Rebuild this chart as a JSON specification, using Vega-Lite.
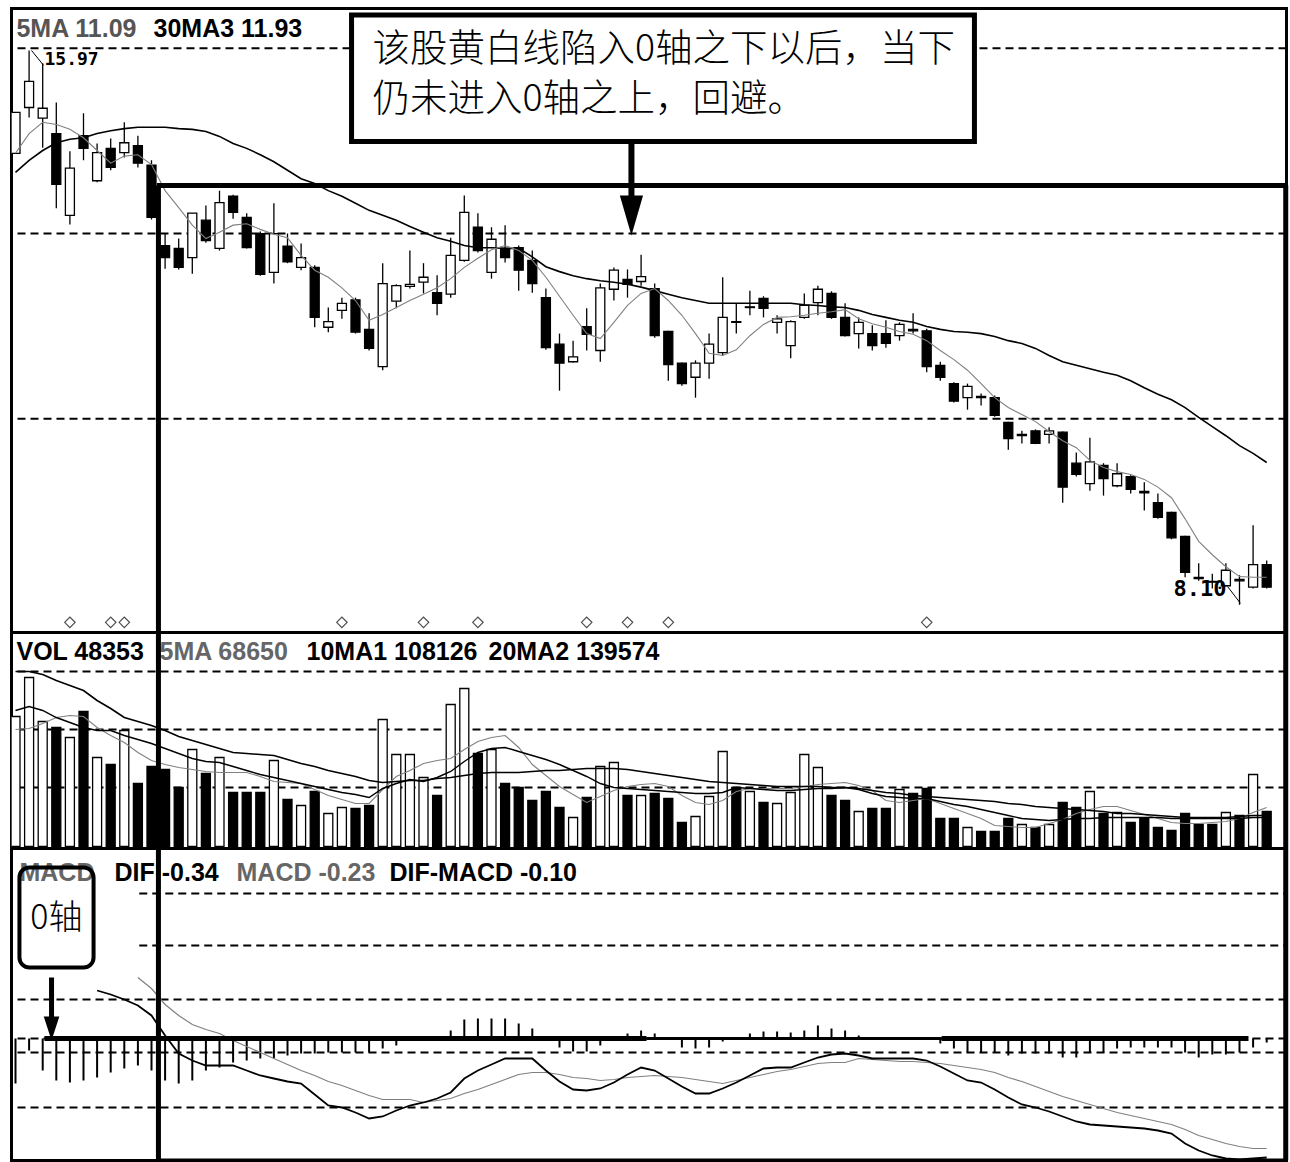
{
"$schema": "https://vega.github.io/schema/vega-lite/v6.json",
"padding": {"left": 8.5, "top": 6.5, "right": 0, "bottom": 0},
"background": "white",
"spacing": 0,
"bounds": "flush",
"config": {"view": {"stroke": "black", "strokeWidth": 3}, "axis": {"disable": true}, "concat": {"spacing": 0}, "scale": {"continuousPadding": 0}},
"datasets": {"k": [
{"i":0,"o":14.51,"h":15.09,"l":14.51,"c":15.09,"m5":14.51,"m30":14.24,"v":195000,"v5":175500,"v10":204000,"v20":262500,"mh":-0.225,"dif":null,"dea":null},
{"i":1,"o":15.16,"h":15.97,"l":15.02,"c":15.53,"m5":14.79,"m30":14.41,"v":253500,"v5":177000,"v10":210000,"v20":262500,"mh":-0.06,"dif":null,"dea":null},
{"i":2,"o":15.01,"h":15.79,"l":14.59,"c":15.15,"m5":14.95,"m30":14.55,"v":187500,"v5":184500,"v10":204000,"v20":258000,"mh":-0.16,"dif":null,"dea":null},
{"i":3,"o":14.79,"h":15.23,"l":13.73,"c":14.07,"m5":14.92,"m30":14.66,"v":178500,"v5":193500,"v10":193500,"v20":249000,"mh":-0.21,"dif":null,"dea":null},
{"i":4,"o":13.63,"h":14.54,"l":13.50,"c":14.30,"m5":14.85,"m30":14.71,"v":163500,"v5":196500,"v10":186000,"v20":241500,"mh":-0.22,"dif":null,"dea":null},
{"i":5,"o":14.76,"h":15.08,"l":14.41,"c":14.58,"m5":14.73,"m30":14.73,"v":202500,"v5":195000,"v10":178500,"v20":234000,"mh":-0.21,"dif":null,"dea":null},
{"i":6,"o":14.12,"h":14.65,"l":14.10,"c":14.52,"m5":14.55,"m30":14.79,"v":133500,"v5":178500,"v10":174000,"v20":219000,"mh":-0.195,"dif":0.24,"dea":null},
{"i":7,"o":14.58,"h":14.72,"l":14.27,"c":14.31,"m5":14.37,"m30":14.83,"v":123000,"v5":166500,"v10":174000,"v20":207000,"mh":-0.17,"dif":0.22,"dea":null},
{"i":8,"o":14.52,"h":14.95,"l":14.45,"c":14.66,"m5":14.47,"m30":14.86,"v":174000,"v5":156000,"v10":166500,"v20":193500,"mh":-0.15,"dif":0.195,"dea":null},
{"i":9,"o":14.62,"h":14.76,"l":14.31,"c":14.37,"m5":14.49,"m30":14.88,"v":94500,"v5":141000,"v10":160500,"v20":187500,"mh":-0.135,"dif":0.165,"dea":0.305},
{"i":10,"o":14.34,"h":14.41,"l":13.57,"c":13.60,"m5":14.35,"m30":14.88,"v":120000,"v5":129000,"v10":154500,"v20":181500,"mh":-0.16,"dif":0.115,"dea":0.25},
{"i":11,"o":13.20,"h":13.37,"l":12.87,"c":13.03,"m5":13.98,"m30":14.88,"v":115500,"v5":123000,"v10":147000,"v20":174000,"mh":-0.21,"dif":0.015,"dea":0.17},
{"i":12,"o":13.16,"h":13.30,"l":12.86,"c":12.89,"m5":13.74,"m30":14.86,"v":88500,"v5":118500,"v10":139500,"v20":165000,"mh":-0.225,"dif":-0.075,"dea":0.115},
{"i":13,"o":13.03,"h":13.66,"l":12.80,"c":13.66,"m5":13.49,"m30":14.85,"v":145500,"v5":115500,"v10":132000,"v20":159000,"mh":-0.21,"dif":-0.11,"dea":0.07},
{"i":14,"o":13.56,"h":13.77,"l":13.24,"c":13.27,"m5":13.30,"m30":14.82,"v":109500,"v5":112500,"v10":127500,"v20":153000,"mh":-0.16,"dif":-0.135,"dea":0.045},
{"i":15,"o":13.16,"h":13.98,"l":13.13,"c":13.81,"m5":13.39,"m30":14.75,"v":133500,"v5":111000,"v10":126000,"v20":147000,"mh":-0.145,"dif":-0.135,"dea":0.025},
{"i":16,"o":13.90,"h":13.92,"l":13.58,"c":13.67,"m5":13.49,"m30":14.65,"v":81000,"v5":111000,"v10":120000,"v20":141000,"mh":-0.12,"dif":-0.135,"dea":-0.01},
{"i":17,"o":13.60,"h":13.66,"l":13.16,"c":13.17,"m5":13.51,"m30":14.58,"v":81000,"v5":111000,"v10":114000,"v20":139500,"mh":-0.11,"dif":-0.16,"dea":-0.04},
{"i":18,"o":13.37,"h":13.40,"l":12.77,"c":12.79,"m5":13.43,"m30":14.49,"v":81000,"v5":105000,"v10":108000,"v20":138000,"mh":-0.10,"dif":-0.185,"dea":-0.07},
{"i":19,"o":12.82,"h":13.80,"l":12.66,"c":13.37,"m5":13.36,"m30":14.39,"v":129000,"v5":97500,"v10":103500,"v20":136500,"mh":-0.10,"dif":-0.2,"dea":-0.1},
{"i":20,"o":13.19,"h":13.37,"l":12.95,"c":12.97,"m5":13.31,"m30":14.27,"v":70500,"v5":96000,"v10":99000,"v20":130500,"mh":-0.085,"dif":-0.215,"dea":-0.13},
{"i":21,"o":12.89,"h":13.23,"l":12.85,"c":13.03,"m5":13.06,"m30":14.15,"v":61500,"v5":94500,"v10":94500,"v20":124500,"mh":-0.075,"dif":-0.225,"dea":-0.16},
{"i":22,"o":12.89,"h":12.92,"l":12.04,"c":12.18,"m5":12.85,"m30":14.08,"v":82500,"v5":85500,"v10":90000,"v20":120000,"mh":-0.075,"dif":-0.28,"dea":-0.185},
{"i":23,"o":12.04,"h":12.32,"l":11.97,"c":12.12,"m5":12.75,"m30":13.98,"v":49500,"v5":76500,"v10":85500,"v20":114000,"mh":-0.07,"dif":-0.335,"dea":-0.215},
{"i":24,"o":12.28,"h":12.46,"l":12.16,"c":12.38,"m5":12.60,"m30":13.90,"v":58500,"v5":70500,"v10":81000,"v20":109500,"mh":-0.07,"dif":-0.345,"dea":-0.235},
{"i":25,"o":12.43,"h":12.46,"l":11.95,"c":11.97,"m5":12.42,"m30":13.80,"v":57000,"v5":64500,"v10":78000,"v20":105000,"mh":-0.07,"dif":-0.37,"dea":-0.26},
{"i":26,"o":12.01,"h":12.24,"l":11.71,"c":11.74,"m5":12.14,"m30":13.70,"v":61500,"v5":64500,"v10":73500,"v20":99000,"mh":-0.07,"dif":-0.4,"dea":-0.285},
{"i":27,"o":11.48,"h":12.95,"l":11.43,"c":12.66,"m5":12.22,"m30":13.63,"v":190500,"v5":85500,"v10":87000,"v20":96000,"mh":-0.05,"dif":-0.39,"dea":-0.305},
{"i":28,"o":12.41,"h":12.65,"l":12.31,"c":12.63,"m5":12.32,"m30":13.56,"v":138000,"v5":105000,"v10":94500,"v20":97500,"mh":-0.035,"dif":-0.36,"dea":-0.305},
{"i":29,"o":12.62,"h":13.13,"l":12.59,"c":12.65,"m5":12.42,"m30":13.47,"v":138000,"v5":114000,"v10":100500,"v20":99000,"mh":-0.01,"dif":-0.335,"dea":-0.305},
{"i":30,"o":12.68,"h":12.95,"l":12.52,"c":12.75,"m5":12.51,"m30":13.39,"v":103500,"v5":124500,"v10":97500,"v20":99000,"mh":-0.005,"dif":-0.32,"dea":-0.32},
{"i":31,"o":12.53,"h":12.78,"l":12.21,"c":12.38,"m5":12.60,"m30":13.31,"v":76500,"v5":129000,"v10":103500,"v20":102000,"mh":0.005,"dif":-0.3,"dea":-0.31},
{"i":32,"o":12.51,"h":13.31,"l":12.46,"c":13.06,"m5":12.73,"m30":13.26,"v":213000,"v5":132000,"v10":112500,"v20":103500,"mh":0.04,"dif":-0.27,"dea":-0.3},
{"i":33,"o":12.99,"h":13.91,"l":12.97,"c":13.67,"m5":12.89,"m30":13.20,"v":237000,"v5":145500,"v10":127500,"v20":106500,"mh":0.095,"dif":-0.2,"dea":-0.275},
{"i":34,"o":13.46,"h":13.66,"l":13.10,"c":13.13,"m5":13.02,"m30":13.17,"v":139500,"v5":157500,"v10":141000,"v20":109500,"mh":0.10,"dif":-0.16,"dea":-0.255},
{"i":35,"o":12.82,"h":13.46,"l":12.73,"c":13.29,"m5":13.14,"m30":13.17,"v":145500,"v5":163500,"v10":147000,"v20":111000,"mh":0.10,"dif":-0.13,"dea":-0.23},
{"i":36,"o":13.16,"h":13.49,"l":12.96,"c":13.03,"m5":13.20,"m30":13.16,"v":94500,"v5":166500,"v10":148500,"v20":111000,"mh":0.10,"dif":-0.1,"dea":-0.205},
{"i":37,"o":13.17,"h":13.20,"l":12.56,"c":12.85,"m5":13.13,"m30":13.16,"v":88500,"v5":148500,"v10":142500,"v20":111000,"mh":0.075,"dif":-0.1,"dea":-0.18},
{"i":38,"o":12.99,"h":13.13,"l":12.53,"c":12.66,"m5":12.99,"m30":13.04,"v":69000,"v5":123000,"v10":136500,"v20":112500,"mh":0.05,"dif":-0.1,"dea":-0.17},
{"i":39,"o":12.46,"h":12.59,"l":11.72,"c":11.75,"m5":12.75,"m30":12.90,"v":82500,"v5":106500,"v10":130500,"v20":114000,"mh":0.005,"dif":-0.16,"dea":-0.17},
{"i":40,"o":11.80,"h":11.95,"l":11.14,"c":11.53,"m5":12.48,"m30":12.83,"v":58500,"v5":90000,"v10":123000,"v20":114000,"mh":-0.045,"dif":-0.215,"dea":-0.18},
{"i":41,"o":11.55,"h":11.85,"l":11.54,"c":11.62,"m5":12.21,"m30":12.77,"v":43500,"v5":78000,"v10":114000,"v20":115500,"mh":-0.065,"dif":-0.255,"dea":-0.195},
{"i":42,"o":12.05,"h":12.31,"l":11.71,"c":11.94,"m5":11.95,"m30":12.73,"v":73500,"v5":66000,"v10":105000,"v20":117000,"mh":-0.065,"dif":-0.26,"dea":-0.2},
{"i":43,"o":11.71,"h":12.66,"l":11.55,"c":12.60,"m5":11.88,"m30":12.70,"v":120000,"v5":75000,"v10":94500,"v20":117000,"mh":-0.035,"dif":-0.25,"dea":-0.21},
{"i":44,"o":12.58,"h":12.89,"l":12.42,"c":12.85,"m5":12.11,"m30":12.68,"v":126000,"v5":84000,"v10":88500,"v20":117000,"mh":0.005,"dif":-0.22,"dea":-0.205},
{"i":45,"o":12.72,"h":12.86,"l":12.46,"c":12.65,"m5":12.35,"m30":12.65,"v":76500,"v5":90000,"v10":87000,"v20":115500,"mh":0.025,"dif":-0.18,"dea":-0.195},
{"i":46,"o":12.69,"h":13.07,"l":12.63,"c":12.76,"m5":12.52,"m30":12.61,"v":76500,"v5":93000,"v10":85500,"v20":112500,"mh":0.04,"dif":-0.145,"dea":-0.19},
{"i":47,"o":12.59,"h":12.66,"l":11.89,"c":11.92,"m5":12.59,"m30":12.56,"v":79500,"v5":94500,"v10":84000,"v20":109500,"mh":0.025,"dif":-0.16,"dea":-0.185},
{"i":48,"o":11.98,"h":11.99,"l":11.28,"c":11.51,"m5":12.42,"m30":12.51,"v":72000,"v5":90000,"v10":82500,"v20":106500,"mh":-0.005,"dif":-0.2,"dea":-0.19},
{"i":49,"o":11.53,"h":11.54,"l":11.21,"c":11.24,"m5":12.21,"m30":12.46,"v":36000,"v5":76500,"v10":81000,"v20":103500,"mh":-0.045,"dif":-0.24,"dea":-0.195},
{"i":50,"o":11.33,"h":11.57,"l":11.04,"c":11.53,"m5":11.95,"m30":12.42,"v":45000,"v5":66000,"v10":79500,"v20":100500,"mh":-0.05,"dif":-0.275,"dea":-0.205},
{"i":51,"o":11.53,"h":11.95,"l":11.31,"c":11.80,"m5":11.67,"m30":12.38,"v":75000,"v5":63000,"v10":79500,"v20":97500,"mh":-0.045,"dif":-0.275,"dea":-0.215},
{"i":52,"o":11.68,"h":12.75,"l":11.64,"c":12.18,"m5":11.64,"m30":12.38,"v":142500,"v5":69000,"v10":81000,"v20":96000,"mh":-0.015,"dif":-0.25,"dea":-0.225},
{"i":53,"o":12.12,"h":12.38,"l":11.95,"c":12.11,"m5":11.72,"m30":12.38,"v":88500,"v5":82500,"v10":88500,"v20":94500,"mh":0.005,"dif":-0.22,"dea":-0.21},
{"i":54,"o":12.32,"h":12.56,"l":12.21,"c":12.33,"m5":11.92,"m30":12.38,"v":82500,"v5":87000,"v10":87000,"v20":93000,"mh":0.025,"dif":-0.185,"dea":-0.195},
{"i":55,"o":12.45,"h":12.48,"l":12.18,"c":12.31,"m5":12.08,"m30":12.38,"v":66000,"v5":87000,"v10":85500,"v20":91500,"mh":0.035,"dif":-0.15,"dea":-0.18},
{"i":56,"o":12.11,"h":12.21,"l":11.95,"c":12.16,"m5":12.18,"m30":12.38,"v":64500,"v5":87000,"v10":84000,"v20":90000,"mh":0.035,"dif":-0.145,"dea":-0.165},
{"i":57,"o":11.78,"h":12.14,"l":11.60,"c":12.12,"m5":12.19,"m30":12.38,"v":81000,"v5":87000,"v10":84000,"v20":90000,"mh":0.03,"dif":-0.145,"dea":-0.155},
{"i":58,"o":12.18,"h":12.52,"l":12.16,"c":12.35,"m5":12.21,"m30":12.36,"v":138000,"v5":90000,"v10":85500,"v20":90000,"mh":0.04,"dif":-0.12,"dea":-0.14},
{"i":59,"o":12.39,"h":12.63,"l":12.21,"c":12.58,"m5":12.24,"m30":12.35,"v":118500,"v5":93000,"v10":87000,"v20":90000,"mh":0.065,"dif":-0.095,"dea":-0.125},
{"i":60,"o":12.52,"h":12.55,"l":12.16,"c":12.18,"m5":12.26,"m30":12.33,"v":76500,"v5":94500,"v10":87000,"v20":88500,"mh":0.05,"dif":-0.08,"dea":-0.12},
{"i":61,"o":12.18,"h":12.38,"l":11.91,"c":11.92,"m5":12.29,"m30":12.32,"v":69000,"v5":96000,"v10":88500,"v20":88500,"mh":0.04,"dif":-0.075,"dea":-0.12},
{"i":62,"o":11.95,"h":12.18,"l":11.74,"c":12.11,"m5":12.16,"m30":12.28,"v":52500,"v5":91500,"v10":85500,"v20":87000,"mh":0.015,"dif":-0.085,"dea":-0.1},
{"i":63,"o":11.95,"h":12.07,"l":11.71,"c":11.78,"m5":12.09,"m30":12.22,"v":57000,"v5":84000,"v10":79500,"v20":84000,"mh":0.005,"dif":-0.1,"dea":-0.105},
{"i":64,"o":11.95,"h":12.14,"l":11.75,"c":11.81,"m5":12.04,"m30":12.18,"v":57000,"v5":69000,"v10":75000,"v20":81000,"mh":0.005,"dif":-0.1,"dea":-0.11},
{"i":65,"o":11.92,"h":12.11,"l":11.85,"c":12.08,"m5":11.98,"m30":12.14,"v":85500,"v5":66000,"v10":73500,"v20":79500,"mh":0.003,"dif":-0.1,"dea":-0.115},
{"i":66,"o":12.01,"h":12.24,"l":11.95,"c":11.99,"m5":11.94,"m30":12.11,"v":79500,"v5":69000,"v10":72000,"v20":76500,"mh":-0.003,"dif":-0.1,"dea":-0.115},
{"i":67,"o":11.99,"h":12.02,"l":11.40,"c":11.48,"m5":11.85,"m30":12.05,"v":87000,"v5":72000,"v10":72000,"v20":75000,"mh":-0.005,"dif":-0.11,"dea":-0.12},
{"i":68,"o":11.50,"h":11.55,"l":11.28,"c":11.33,"m5":11.71,"m30":12.01,"v":42000,"v5":64500,"v10":67500,"v20":73500,"mh":-0.025,"dif":-0.14,"dea":-0.125},
{"i":69,"o":11.24,"h":11.26,"l":10.97,"c":10.99,"m5":11.58,"m30":11.98,"v":42000,"v5":57000,"v10":63000,"v20":72000,"mh":-0.05,"dif":-0.175,"dea":-0.135},
{"i":70,"o":11.04,"h":11.24,"l":10.87,"c":11.20,"m5":11.43,"m30":11.97,"v":28500,"v5":49500,"v10":60000,"v20":70500,"mh":-0.07,"dif":-0.21,"dea":-0.145},
{"i":71,"o":11.06,"h":11.10,"l":10.93,"c":11.04,"m5":11.24,"m30":11.95,"v":22500,"v5":42000,"v10":55500,"v20":69000,"mh":-0.07,"dif":-0.22,"dea":-0.155},
{"i":72,"o":11.04,"h":11.07,"l":10.77,"c":10.79,"m5":11.04,"m30":11.91,"v":22500,"v5":31500,"v10":51000,"v20":67500,"mh":-0.07,"dif":-0.255,"dea":-0.17},
{"i":73,"o":10.69,"h":10.70,"l":10.30,"c":10.46,"m5":10.90,"m30":11.85,"v":42000,"v5":30000,"v10":46500,"v20":64500,"mh":-0.085,"dif":-0.295,"dea":-0.195},
{"i":74,"o":10.50,"h":10.57,"l":10.39,"c":10.52,"m5":10.80,"m30":11.81,"v":33000,"v5":28500,"v10":42000,"v20":63000,"mh":-0.075,"dif":-0.33,"dea":-0.215},
{"i":75,"o":10.57,"h":10.59,"l":10.38,"c":10.39,"m5":10.70,"m30":11.74,"v":28500,"v5":28500,"v10":40500,"v20":60000,"mh":-0.075,"dif":-0.345,"dea":-0.24},
{"i":76,"o":10.52,"h":10.62,"l":10.39,"c":10.57,"m5":10.56,"m30":11.64,"v":33000,"v5":34500,"v10":39000,"v20":58500,"mh":-0.075,"dif":-0.365,"dea":-0.265},
{"i":77,"o":10.55,"h":10.56,"l":9.55,"c":9.77,"m5":10.43,"m30":11.55,"v":66000,"v5":40500,"v10":40500,"v20":57000,"mh":-0.095,"dif":-0.39,"dea":-0.29},
{"i":78,"o":10.11,"h":10.26,"l":9.92,"c":9.95,"m5":10.33,"m30":11.50,"v":58500,"v5":49500,"v10":42000,"v20":55500,"mh":-0.095,"dif":-0.415,"dea":-0.31},
{"i":79,"o":9.82,"h":10.47,"l":9.72,"c":10.13,"m5":10.15,"m30":11.45,"v":82500,"v5":55500,"v10":42000,"v20":54000,"mh":-0.07,"dif":-0.43,"dea":-0.33},
{"i":80,"o":10.08,"h":10.11,"l":9.65,"c":9.89,"m5":10.05,"m30":11.40,"v":49500,"v5":60000,"v10":43500,"v20":52500,"mh":-0.07,"dif":-0.435,"dea":-0.35},
{"i":81,"o":9.79,"h":10.11,"l":9.77,"c":9.96,"m5":9.99,"m30":11.36,"v":51000,"v5":60000,"v10":43500,"v20":49500,"mh":-0.05,"dif":-0.44,"dea":-0.37},
{"i":82,"o":9.92,"h":9.94,"l":9.68,"c":9.74,"m5":9.95,"m30":11.28,"v":36000,"v5":54000,"v10":43500,"v20":49500,"mh":-0.045,"dif":-0.445,"dea":-0.385},
{"i":83,"o":9.71,"h":9.84,"l":9.44,"c":9.69,"m5":9.88,"m30":11.18,"v":42000,"v5":48000,"v10":43500,"v20":48000,"mh":-0.045,"dif":-0.45,"dea":-0.4},
{"i":84,"o":9.55,"h":9.68,"l":9.32,"c":9.34,"m5":9.77,"m30":11.09,"v":28500,"v5":42000,"v10":43500,"v20":46500,"mh":-0.045,"dif":-0.46,"dea":-0.415},
{"i":85,"o":9.41,"h":9.42,"l":9.03,"c":9.05,"m5":9.62,"m30":11.01,"v":24000,"v5":36000,"v10":42000,"v20":45000,"mh":-0.045,"dif":-0.475,"dea":-0.43},
{"i":86,"o":9.07,"h":9.08,"l":8.49,"c":8.56,"m5":9.32,"m30":10.90,"v":49500,"v5":34500,"v10":42000,"v20":43500,"mh":-0.07,"dif":-0.525,"dea":-0.455},
{"i":87,"o":8.49,"h":8.69,"l":8.44,"c":8.47,"m5":9.00,"m30":10.76,"v":33000,"v5":34500,"v10":42000,"v20":43500,"mh":-0.095,"dif":-0.56,"dea":-0.485},
{"i":88,"o":8.43,"h":8.54,"l":8.33,"c":8.42,"m5":8.81,"m30":10.63,"v":33000,"v5":36000,"v10":42000,"v20":43500,"mh":-0.08,"dif":-0.585,"dea":-0.505},
{"i":89,"o":8.37,"h":8.69,"l":8.36,"c":8.59,"m5":8.64,"m30":10.50,"v":51000,"v5":37500,"v10":42000,"v20":43500,"mh":-0.08,"dif":-0.6,"dea":-0.525},
{"i":90,"o":8.46,"h":8.52,"l":8.10,"c":8.44,"m5":8.50,"m30":10.36,"v":46500,"v5":42000,"v10":42000,"v20":45000,"mh":-0.07,"dif":-0.605,"dea":-0.54},
{"i":91,"o":8.35,"h":9.23,"l":8.33,"c":8.67,"m5":8.49,"m30":10.25,"v":108000,"v5":51000,"v10":43500,"v20":46500,"mh":-0.045,"dif":-0.6,"dea":-0.55},
{"i":92,"o":8.67,"h":8.73,"l":8.33,"c":8.35,"m5":8.49,"m30":10.12,"v":52500,"v5":58500,"v10":43500,"v20":46500,"mh":-0.02,"dif":-0.595,"dea":-0.55}
]},
"vconcat": [
{
"width": 1275, "height": 624,
"data": {"name": "k"},
"layer": [
{"data": {"values": [{"g": 16.0}, {"g": 13.37}, {"g": 10.74}]}, "mark": {"type": "rule", "strokeDash": [8, 5], "strokeWidth": 2, "color": "black"},
 "encoding": {"y": {"field": "g", "type": "quantitative", "scale": {"domain": [7.706, 16.566], "nice": false, "zero": false}, "axis": null}}},
{"mark": {"type": "rule", "strokeWidth": 1.3, "color": "black", "clip": true},
 "encoding": {"x": {"field": "i", "type": "quantitative", "scale": {"domain": [-0.294, 93.456], "nice": false, "zero": false, "padding": 0}, "axis": null},
  "y": {"field": "l", "type": "quantitative", "scale": {"domain": [7.706, 16.566], "nice": false, "zero": false}, "axis": null}, "y2": {"field": "h"}}},
{"mark": {"type": "bar", "width": 9, "stroke": "black", "strokeWidth": 1.3, "clip": true},
 "encoding": {"x": {"field": "i", "type": "quantitative", "scale": {"domain": [-0.294, 93.456], "nice": false, "zero": false, "padding": 0}, "axis": null},
  "y": {"field": "o", "type": "quantitative", "scale": {"domain": [7.706, 16.566], "nice": false, "zero": false}, "axis": null}, "y2": {"field": "c"},
  "fill": {"condition": {"test": "datum.c > datum.o", "value": "white"}, "value": "black"}}},
{"mark": {"type": "line", "color": "black", "strokeWidth": 1.6},
 "encoding": {"x": {"field": "i", "type": "quantitative", "scale": {"domain": [-0.294, 93.456], "nice": false, "zero": false, "padding": 0}, "axis": null},
  "y": {"field": "m30", "type": "quantitative", "scale": {"domain": [7.706, 16.566], "nice": false, "zero": false}, "axis": null}}},
{"mark": {"type": "line", "color": "#808080", "strokeWidth": 1.1},
 "encoding": {"x": {"field": "i", "type": "quantitative", "scale": {"domain": [-0.294, 93.456], "nice": false, "zero": false, "padding": 0}, "axis": null},
  "y": {"field": "m5", "type": "quantitative", "scale": {"domain": [7.706, 16.566], "nice": false, "zero": false}, "axis": null}}},
{"data": {"values": [{"i": 4}, {"i": 7}, {"i": 8}, {"i": 24}, {"i": 30}, {"i": 34}, {"i": 42}, {"i": 45}, {"i": 48}, {"i": 67}]},
 "mark": {"type": "point", "shape": "diamond", "size": 110, "filled": false, "color": "black", "strokeWidth": 1.2},
 "encoding": {"x": {"field": "i", "type": "quantitative", "scale": {"domain": [-0.294, 93.456], "nice": false, "zero": false, "padding": 0}, "axis": null},
  "y": {"datum": 7.85, "type": "quantitative", "scale": {"domain": [7.706, 16.566], "nice": false, "zero": false}, "axis": null}}},
{"data": {"values": [{}]}, "mark": {"type": "rule", "strokeWidth": 1, "color": "black"},
 "encoding": {"x": {"datum": 1.18, "type": "quantitative", "scale": {"domain": [-0.294, 93.456], "nice": false, "zero": false, "padding": 0}, "axis": null}, "x2": {"datum": 2.06},
  "y": {"datum": 15.97, "type": "quantitative", "scale": {"domain": [7.706, 16.566], "nice": false, "zero": false}, "axis": null}, "y2": {"datum": 15.76}}},
{"data": {"values": [{}]}, "mark": {"type": "rule", "strokeWidth": 1, "color": "black"},
 "encoding": {"x": {"datum": 89.12, "type": "quantitative", "scale": {"domain": [-0.294, 93.456], "nice": false, "zero": false, "padding": 0}, "axis": null}, "x2": {"datum": 90.07},
  "y": {"datum": 8.36, "type": "quantitative", "scale": {"domain": [7.706, 16.566], "nice": false, "zero": false}, "axis": null}, "y2": {"datum": 8.12}}},
{"data": {"values": [{}]}, "mark": {"type": "text", "text": "15.97", "align": "left", "baseline": "middle", "font": "DejaVu Sans Mono", "fontWeight": "bold", "fontSize": 18, "color": "black"},
 "encoding": {"x": {"datum": 2.13, "type": "quantitative", "scale": {"domain": [-0.294, 93.456], "nice": false, "zero": false, "padding": 0}, "axis": null}, "y": {"datum": 15.83, "type": "quantitative", "scale": {"domain": [7.706, 16.566], "nice": false, "zero": false}, "axis": null}}},
{"data": {"values": [{}]}, "mark": {"type": "text", "text": "8.10", "align": "left", "baseline": "middle", "font": "DejaVu Sans Mono", "fontWeight": "bold", "fontSize": 22, "color": "black"},
 "encoding": {"x": {"datum": 85.15, "type": "quantitative", "scale": {"domain": [-0.294, 93.456], "nice": false, "zero": false, "padding": 0}, "axis": null}, "y": {"datum": 8.33, "type": "quantitative", "scale": {"domain": [7.706, 16.566], "nice": false, "zero": false}, "axis": null}}},
{"data": {"values": [{}]}, "mark": {"type": "text", "text": "5MA 11.09", "align": "left", "baseline": "middle", "font": "Liberation Sans", "fontWeight": "bold", "fontSize": 25, "color": "#555555"},
 "encoding": {"x": {"datum": 0.07, "type": "quantitative", "scale": {"domain": [-0.294, 93.456], "nice": false, "zero": false, "padding": 0}, "axis": null}, "y": {"datum": 16.275, "type": "quantitative", "scale": {"domain": [7.706, 16.566], "nice": false, "zero": false}, "axis": null}}},
{"data": {"values": [{}]}, "mark": {"type": "text", "text": "30MA3 11.93", "align": "left", "baseline": "middle", "font": "Liberation Sans", "fontWeight": "bold", "fontSize": 25, "color": "black"},
 "encoding": {"x": {"datum": 10.15, "type": "quantitative", "scale": {"domain": [-0.294, 93.456], "nice": false, "zero": false, "padding": 0}, "axis": null}, "y": {"datum": 16.275, "type": "quantitative", "scale": {"domain": [7.706, 16.566], "nice": false, "zero": false}, "axis": null}}},
{"data": {"values": [{}]}, "mark": {"type": "rect", "fill": "white", "stroke": "black", "strokeWidth": 5},
 "encoding": {"x": {"datum": 24.71, "type": "quantitative", "scale": {"domain": [-0.294, 93.456], "nice": false, "zero": false, "padding": 0}, "axis": null}, "x2": {"datum": 70.51},
  "y": {"datum": 16.474, "type": "quantitative", "scale": {"domain": [7.706, 16.566], "nice": false, "zero": false}, "axis": null}, "y2": {"datum": 14.678}}},
{"data": {"values": [{}]}, "mark": {"type": "text", "text": "该股黄白线陷入0轴之下以后，当下", "align": "left", "baseline": "middle", "font": "Noto Sans CJK SC", "fontWeight": 300, "fontSize": 37.5, "color": "black"},
 "encoding": {"x": {"datum": 26.25, "type": "quantitative", "scale": {"domain": [-0.294, 93.456], "nice": false, "zero": false, "padding": 0}, "axis": null}, "y": {"datum": 15.97, "type": "quantitative", "scale": {"domain": [7.706, 16.566], "nice": false, "zero": false}, "axis": null}}},
{"data": {"values": [{}]}, "mark": {"type": "text", "text": "仍未进入0轴之上，回避。", "align": "left", "baseline": "middle", "font": "Noto Sans CJK SC", "fontWeight": 300, "fontSize": 37.5, "color": "black"},
 "encoding": {"x": {"datum": 26.25, "type": "quantitative", "scale": {"domain": [-0.294, 93.456], "nice": false, "zero": false, "padding": 0}, "axis": null}, "y": {"datum": 15.26, "type": "quantitative", "scale": {"domain": [7.706, 16.566], "nice": false, "zero": false}, "axis": null}}},
{"data": {"values": [{}]}, "mark": {"type": "rule", "strokeWidth": 6, "color": "black"},
 "encoding": {"x": {"datum": 45.29, "type": "quantitative", "scale": {"domain": [-0.294, 93.456], "nice": false, "zero": false, "padding": 0}, "axis": null},
  "y": {"datum": 14.68, "type": "quantitative", "scale": {"domain": [7.706, 16.566], "nice": false, "zero": false}, "axis": null}, "y2": {"datum": 13.84}}},
{"data": {"values": [{}]}, "mark": {"type": "point", "shape": "M-0.58,-1L0.58,-1L0,1Z", "size": 1600, "filled": true, "color": "black", "opacity": 1},
 "encoding": {"x": {"datum": 45.29, "type": "quantitative", "scale": {"domain": [-0.294, 93.456], "nice": false, "zero": false, "padding": 0}, "axis": null},
  "y": {"datum": 13.627, "type": "quantitative", "scale": {"domain": [7.706, 16.566], "nice": false, "zero": false}, "axis": null}}},
{"data": {"values": [{}]}, "mark": {"type": "rule", "strokeWidth": 5, "color": "black"},
 "encoding": {"x": {"datum": 10.51, "type": "quantitative", "scale": {"domain": [-0.294, 93.456], "nice": false, "zero": false, "padding": 0}, "axis": null},
  "y": {"datum": 14.053, "type": "quantitative", "scale": {"domain": [7.706, 16.566], "nice": false, "zero": false}, "axis": null}, "y2": {"datum": 7.706}}},
{"data": {"values": [{}]}, "mark": {"type": "rule", "strokeWidth": 5, "color": "black"},
 "encoding": {"x": {"datum": 93.4, "type": "quantitative", "scale": {"domain": [-0.294, 93.456], "nice": false, "zero": false, "padding": 0}, "axis": null},
  "y": {"datum": 14.053, "type": "quantitative", "scale": {"domain": [7.706, 16.566], "nice": false, "zero": false}, "axis": null}, "y2": {"datum": 7.706}}},
{"data": {"values": [{}]}, "mark": {"type": "rule", "strokeWidth": 5, "color": "black"},
 "encoding": {"x": {"datum": 10.4, "type": "quantitative", "scale": {"domain": [-0.294, 93.456], "nice": false, "zero": false, "padding": 0}, "axis": null}, "x2": {"datum": 93.55},
  "y": {"datum": 14.053, "type": "quantitative", "scale": {"domain": [7.706, 16.566], "nice": false, "zero": false}, "axis": null}}}
]
},
{
"width": 1275, "height": 216,
"data": {"name": "k"},
"layer": [
{"data": {"values": [{"g": 262500}, {"g": 175500}, {"g": 88500}]}, "mark": {"type": "rule", "strokeDash": [8, 5], "strokeWidth": 2, "color": "black"},
 "encoding": {"y": {"field": "g", "type": "quantitative", "scale": {"domain": [-3000, 321000], "nice": false, "zero": false}, "axis": null}}},
{"mark": {"type": "bar", "width": 9, "stroke": "black", "strokeWidth": 1.3, "clip": true},
 "encoding": {"x": {"field": "i", "type": "quantitative", "scale": {"domain": [-0.294, 93.456], "nice": false, "zero": false, "padding": 0}, "axis": null},
  "y": {"field": "v", "type": "quantitative", "scale": {"domain": [-3000, 321000], "nice": false, "zero": false}, "axis": null}, "y2": {"datum": 0},
  "fill": {"condition": {"test": "datum.c > datum.o", "value": "white"}, "value": "black"}}},
{"mark": {"type": "line", "color": "#808080", "strokeWidth": 1.1},
 "encoding": {"x": {"field": "i", "type": "quantitative", "scale": {"domain": [-0.294, 93.456], "nice": false, "zero": false, "padding": 0}, "axis": null},
  "y": {"field": "v5", "type": "quantitative", "scale": {"domain": [-3000, 321000], "nice": false, "zero": false}, "axis": null}}},
{"mark": {"type": "line", "color": "black", "strokeWidth": 1.4},
 "encoding": {"x": {"field": "i", "type": "quantitative", "scale": {"domain": [-0.294, 93.456], "nice": false, "zero": false, "padding": 0}, "axis": null},
  "y": {"field": "v10", "type": "quantitative", "scale": {"domain": [-3000, 321000], "nice": false, "zero": false}, "axis": null}}},
{"mark": {"type": "line", "color": "black", "strokeWidth": 1.6},
 "encoding": {"x": {"field": "i", "type": "quantitative", "scale": {"domain": [-0.294, 93.456], "nice": false, "zero": false, "padding": 0}, "axis": null},
  "y": {"field": "v20", "type": "quantitative", "scale": {"domain": [-3000, 321000], "nice": false, "zero": false}, "axis": null}}},
{"data": {"values": [{}]}, "mark": {"type": "text", "text": "VOL 48353", "align": "left", "baseline": "middle", "font": "Liberation Sans", "fontWeight": "bold", "fontSize": 25, "color": "black"},
 "encoding": {"x": {"datum": 0.07, "type": "quantitative", "scale": {"domain": [-0.294, 93.456], "nice": false, "zero": false, "padding": 0}, "axis": null}, "y": {"datum": 292500, "type": "quantitative", "scale": {"domain": [-3000, 321000], "nice": false, "zero": false}, "axis": null}}},
{"data": {"values": [{}]}, "mark": {"type": "text", "text": "5MA 68650", "align": "left", "baseline": "middle", "font": "Liberation Sans", "fontWeight": "bold", "fontSize": 25, "color": "#666666"},
 "encoding": {"x": {"datum": 10.59, "type": "quantitative", "scale": {"domain": [-0.294, 93.456], "nice": false, "zero": false, "padding": 0}, "axis": null}, "y": {"datum": 292500, "type": "quantitative", "scale": {"domain": [-3000, 321000], "nice": false, "zero": false}, "axis": null}}},
{"data": {"values": [{}]}, "mark": {"type": "text", "text": "10MA1 108126", "align": "left", "baseline": "middle", "font": "Liberation Sans", "fontWeight": "bold", "fontSize": 25, "color": "black"},
 "encoding": {"x": {"datum": 21.4, "type": "quantitative", "scale": {"domain": [-0.294, 93.456], "nice": false, "zero": false, "padding": 0}, "axis": null}, "y": {"datum": 292500, "type": "quantitative", "scale": {"domain": [-3000, 321000], "nice": false, "zero": false}, "axis": null}}},
{"data": {"values": [{}]}, "mark": {"type": "text", "text": "20MA2 139574", "align": "left", "baseline": "middle", "font": "Liberation Sans", "fontWeight": "bold", "fontSize": 25, "color": "black"},
 "encoding": {"x": {"datum": 34.78, "type": "quantitative", "scale": {"domain": [-0.294, 93.456], "nice": false, "zero": false, "padding": 0}, "axis": null}, "y": {"datum": 292500, "type": "quantitative", "scale": {"domain": [-3000, 321000], "nice": false, "zero": false}, "axis": null}}},
{"data": {"values": [{}]}, "mark": {"type": "rule", "strokeWidth": 5, "color": "black"},
 "encoding": {"x": {"datum": 10.51, "type": "quantitative", "scale": {"domain": [-0.294, 93.456], "nice": false, "zero": false, "padding": 0}, "axis": null}}},
{"data": {"values": [{}]}, "mark": {"type": "rule", "strokeWidth": 5, "color": "black"},
 "encoding": {"x": {"datum": 93.4, "type": "quantitative", "scale": {"domain": [-0.294, 93.456], "nice": false, "zero": false, "padding": 0}, "axis": null}}}
]
},
{
"width": 1275, "height": 312,
"data": {"name": "k"},
"layer": [
{"data": {"values": [{"g": 0.195}, {"g": -0.07}, {"g": -0.345}, {"g": 0}]}, "mark": {"type": "rule", "strokeDash": [8, 5], "strokeWidth": 2, "color": "black"},
 "encoding": {"y": {"field": "g", "type": "quantitative", "scale": {"domain": [-0.61, 0.95], "nice": false, "zero": false}, "axis": null}}},
{"data": {"values": [{"g": 0.725}, {"g": 0.465}]}, "mark": {"type": "rule", "strokeDash": [8, 5], "strokeWidth": 2, "color": "black"},
 "encoding": {"y": {"field": "g", "type": "quantitative", "scale": {"domain": [-0.61, 0.95], "nice": false, "zero": false}, "axis": null},
  "x": {"datum": 9.1, "type": "quantitative", "scale": {"domain": [-0.294, 93.456], "nice": false, "zero": false, "padding": 0}, "axis": null}, "x2": {"datum": 93.456}}},
{"mark": {"type": "rule", "strokeWidth": 2, "color": "black"},
 "encoding": {"x": {"field": "i", "type": "quantitative", "scale": {"domain": [-0.294, 93.456], "nice": false, "zero": false, "padding": 0}, "axis": null},
  "y": {"field": "mh", "type": "quantitative", "scale": {"domain": [-0.61, 0.95], "nice": false, "zero": false}, "axis": null}, "y2": {"datum": 0}}},
{"mark": {"type": "line", "color": "#808080", "strokeWidth": 1.2},
 "encoding": {"x": {"field": "i", "type": "quantitative", "scale": {"domain": [-0.294, 93.456], "nice": false, "zero": false, "padding": 0}, "axis": null},
  "y": {"field": "dea", "type": "quantitative", "scale": {"domain": [-0.61, 0.95], "nice": false, "zero": false}, "axis": null}}},
{"mark": {"type": "line", "color": "black", "strokeWidth": 1.8},
 "encoding": {"x": {"field": "i", "type": "quantitative", "scale": {"domain": [-0.294, 93.456], "nice": false, "zero": false, "padding": 0}, "axis": null},
  "y": {"field": "dif", "type": "quantitative", "scale": {"domain": [-0.61, 0.95], "nice": false, "zero": false}, "axis": null}}},
{"data": {"values": [{}]}, "mark": {"type": "rule", "strokeWidth": 5, "color": "black"},
 "encoding": {"x": {"datum": 2.13, "type": "quantitative", "scale": {"domain": [-0.294, 93.456], "nice": false, "zero": false, "padding": 0}, "axis": null}, "x2": {"datum": 46.4},
  "y": {"datum": 0, "type": "quantitative", "scale": {"domain": [-0.61, 0.95], "nice": false, "zero": false}, "axis": null}}},
{"data": {"values": [{}]}, "mark": {"type": "rule", "strokeWidth": 3, "color": "black"},
 "encoding": {"x": {"datum": 46.4, "type": "quantitative", "scale": {"domain": [-0.294, 93.456], "nice": false, "zero": false, "padding": 0}, "axis": null}, "x2": {"datum": 68.1},
  "y": {"datum": 0, "type": "quantitative", "scale": {"domain": [-0.61, 0.95], "nice": false, "zero": false}, "axis": null}}},
{"data": {"values": [{}]}, "mark": {"type": "rule", "strokeWidth": 5, "color": "black"},
 "encoding": {"x": {"datum": 68.1, "type": "quantitative", "scale": {"domain": [-0.294, 93.456], "nice": false, "zero": false, "padding": 0}, "axis": null}, "x2": {"datum": 90.66},
  "y": {"datum": 0, "type": "quantitative", "scale": {"domain": [-0.61, 0.95], "nice": false, "zero": false}, "axis": null}}},
{"data": {"values": [{}]}, "mark": {"type": "text", "text": "MACD", "align": "left", "baseline": "middle", "font": "Liberation Sans", "fontWeight": "bold", "fontSize": 25, "color": "#666666"},
 "encoding": {"x": {"datum": 0.29, "type": "quantitative", "scale": {"domain": [-0.294, 93.456], "nice": false, "zero": false, "padding": 0}, "axis": null}, "y": {"datum": 0.8275, "type": "quantitative", "scale": {"domain": [-0.61, 0.95], "nice": false, "zero": false}, "axis": null}}},
{"data": {"values": [{}]}, "mark": {"type": "text", "text": "DIF -0.34", "align": "left", "baseline": "middle", "font": "Liberation Sans", "fontWeight": "bold", "fontSize": 25, "color": "black"},
 "encoding": {"x": {"datum": 7.28, "type": "quantitative", "scale": {"domain": [-0.294, 93.456], "nice": false, "zero": false, "padding": 0}, "axis": null}, "y": {"datum": 0.8275, "type": "quantitative", "scale": {"domain": [-0.61, 0.95], "nice": false, "zero": false}, "axis": null}}},
{"data": {"values": [{}]}, "mark": {"type": "text", "text": "MACD -0.23", "align": "left", "baseline": "middle", "font": "Liberation Sans", "fontWeight": "bold", "fontSize": 25, "color": "#666666"},
 "encoding": {"x": {"datum": 16.25, "type": "quantitative", "scale": {"domain": [-0.294, 93.456], "nice": false, "zero": false, "padding": 0}, "axis": null}, "y": {"datum": 0.8275, "type": "quantitative", "scale": {"domain": [-0.61, 0.95], "nice": false, "zero": false}, "axis": null}}},
{"data": {"values": [{}]}, "mark": {"type": "text", "text": "DIF-MACD -0.10", "align": "left", "baseline": "middle", "font": "Liberation Sans", "fontWeight": "bold", "fontSize": 25, "color": "black"},
 "encoding": {"x": {"datum": 27.5, "type": "quantitative", "scale": {"domain": [-0.294, 93.456], "nice": false, "zero": false, "padding": 0}, "axis": null}, "y": {"datum": 0.8275, "type": "quantitative", "scale": {"domain": [-0.61, 0.95], "nice": false, "zero": false}, "axis": null}}},
{"data": {"values": [{}]}, "mark": {"type": "rect", "filled": false, "stroke": "black", "strokeWidth": 4, "cornerRadius": 10},
 "encoding": {"x": {"datum": 0.29, "type": "quantitative", "scale": {"domain": [-0.294, 93.456], "nice": false, "zero": false, "padding": 0}, "axis": null}, "x2": {"datum": 5.74},
  "y": {"datum": 0.855, "type": "quantitative", "scale": {"domain": [-0.61, 0.95], "nice": false, "zero": false}, "axis": null}, "y2": {"datum": 0.355}}},
{"data": {"values": [{}]}, "mark": {"type": "text", "text": "0轴", "align": "center", "baseline": "middle", "font": "Noto Sans CJK SC", "fontWeight": 300, "fontSize": 34, "color": "black"},
 "encoding": {"x": {"datum": 3.01, "type": "quantitative", "scale": {"domain": [-0.294, 93.456], "nice": false, "zero": false, "padding": 0}, "axis": null}, "y": {"datum": 0.6, "type": "quantitative", "scale": {"domain": [-0.61, 0.95], "nice": false, "zero": false}, "axis": null}}},
{"data": {"values": [{}]}, "mark": {"type": "rule", "strokeWidth": 5, "color": "black"},
 "encoding": {"x": {"datum": 2.65, "type": "quantitative", "scale": {"domain": [-0.294, 93.456], "nice": false, "zero": false, "padding": 0}, "axis": null},
  "y": {"datum": 0.305, "type": "quantitative", "scale": {"domain": [-0.61, 0.95], "nice": false, "zero": false}, "axis": null}, "y2": {"datum": 0.09}}},
{"data": {"values": [{}]}, "mark": {"type": "point", "shape": "M-0.65,-1L0.65,-1L0,1Z", "size": 576, "filled": true, "color": "black", "opacity": 1},
 "encoding": {"x": {"datum": 2.65, "type": "quantitative", "scale": {"domain": [-0.294, 93.456], "nice": false, "zero": false, "padding": 0}, "axis": null},
  "y": {"datum": 0.05, "type": "quantitative", "scale": {"domain": [-0.61, 0.95], "nice": false, "zero": false}, "axis": null}}},
{"data": {"values": [{}]}, "mark": {"type": "rule", "strokeWidth": 5, "color": "black"},
 "encoding": {"x": {"datum": 10.51, "type": "quantitative", "scale": {"domain": [-0.294, 93.456], "nice": false, "zero": false, "padding": 0}, "axis": null}}},
{"data": {"values": [{}]}, "mark": {"type": "rule", "strokeWidth": 5, "color": "black"},
 "encoding": {"x": {"datum": 93.4, "type": "quantitative", "scale": {"domain": [-0.294, 93.456], "nice": false, "zero": false, "padding": 0}, "axis": null}}},
{"data": {"values": [{}]}, "mark": {"type": "rule", "strokeWidth": 4, "color": "black"},
 "encoding": {"x": {"datum": 10.4, "type": "quantitative", "scale": {"domain": [-0.294, 93.456], "nice": false, "zero": false, "padding": 0}, "axis": null}, "x2": {"datum": 93.55},
  "y": {"datum": -0.61, "type": "quantitative", "scale": {"domain": [-0.61, 0.95], "nice": false, "zero": false}, "axis": null}}}
]
}
]
}
